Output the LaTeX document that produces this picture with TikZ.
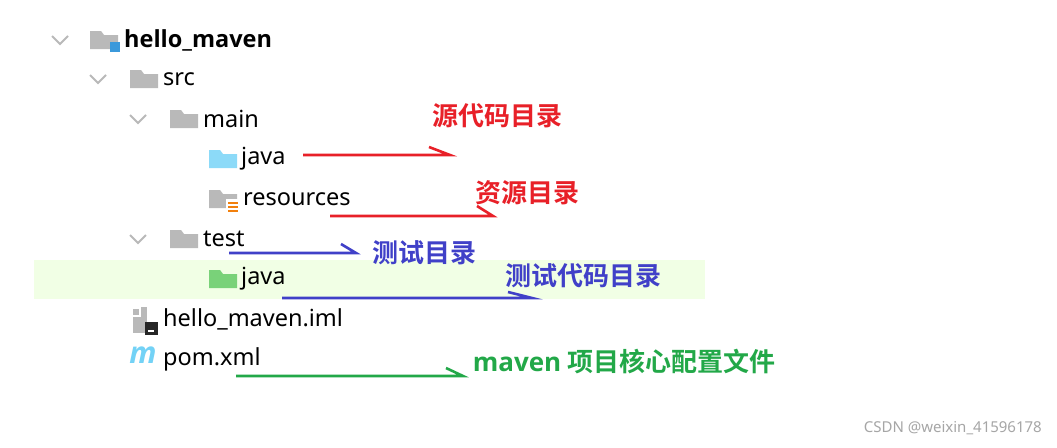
\documentclass[tikz,border=0pt]{standalone}
\usepackage{fontspec}
\setmainfont{Noto Sans}
\newfontfamily\cjk{Noto Sans CJK SC}[BoldFont={* Bold}]
\newfontfamily\sansb{Open Sans}
\begin{document}
\begin{tikzpicture}[x=1pt,y=-1pt,
  lbl/.style={anchor=west,inner sep=0pt,font=\fontsize{23.5}{27}\selectfont},
  chev/.style={draw=gray!55,line width=2pt},
  note/.style={inner sep=0pt,font=\cjk\bfseries\fontsize{26}{30}\selectfont,text=#1},
  arr/.style={draw=#1,line width=2.6pt}]
\useasboundingbox (0,0) rectangle (1057,447);
\fill[white] (0,0) rectangle (1057,447);
\fill[green!40!lime!10] (34,260) rectangle (705,299);
\foreach \x/\y in {60/40,98/79,138/119,138/239}
  \draw[chev] (\x-8,\y-4) -- (\x,\y+4) -- (\x+8,\y-4);
\tikzset{folder/.pic={\fill[#1] (-14,-9) -- (-3,-9) -- (0,-5) -- (14,-5) -- (14,9) -- (-14,9) -- cycle;}}
\pic at (104,40) {folder={gray!55}};
\fill[cyan!70!blue!80] (110,42) rectangle (120,52);
\pic at (144,79) {folder={gray!55}};
\pic at (184,119) {folder={gray!55}};
\pic at (223,159) {folder={cyan!45}};
\pic at (223,199) {folder={gray!55}};
\fill[white] (226,199) rectangle (240,214);
\foreach \yy in {202,206,210} \fill[orange!80!brown] (228,\yy) rectangle (238,\yy+2);
\pic at (184,239) {folder={gray!55}};
\pic at (223,279) {folder={green!50!gray!70}};
\fill[gray!55] (133,309) -- (139,309) -- (139,315) -- (133,315) -- cycle;
\fill[gray!55] (141,307) rectangle (147,333);
\fill[gray!55] (133,317) rectangle (141,333);
\fill[black!85] (145,322) rectangle (158,335);
\fill[white] (148,330) rectangle (154,332);
\node[inner sep=0pt,font=\sansb\bfseries\itshape\fontsize{30}{30}\selectfont,text=cyan!55] (m) at (143,355) {m};
\node[lbl] (hm) at (124,40) {\sansb\bfseries hello\_maven};
\node[lbl] (src) at (163,79) {src};
\node[lbl] (main) at (203,119) {main};
\node[lbl] (java1) at (241,159) {java};
\node[lbl] (res) at (243,199) {resources};
\node[lbl] (test) at (203,239) {test};
\node[lbl] (java2) at (241,279) {java};
\node[lbl] (iml) at (163,319) {hello\_maven.iml};
\node[lbl] (pom) at (163,359) {pom.xml};
\definecolor{rd}{HTML}{E82028}\definecolor{bl}{HTML}{4040C8}\definecolor{gr}{HTML}{22A848}
\node[note=rd] (n1) at (497,116) {源代码目录};
\node[note=rd] (n2) at (527,193) {资源目录};
\node[note=bl] (n3) at (424,253) {测试目录};
\node[note=bl] (n4) at (583,276) {测试代码目录};
\node[note=gr] (n5) at (624,362) {{\sansb\bfseries maven} 项目核心配置文件};
\coordinate (a1s) at (303,155); \coordinate (a1e) at (450,155);
\coordinate (a2s) at (330,216); \coordinate (a2e) at (493,216);
\coordinate (a3s) at (229,253); \coordinate (a3e) at (356,253);
\coordinate (a4s) at (282,298); \coordinate (a4e) at (532,298);
\coordinate (a5s) at (236,376); \coordinate (a5e) at (463,376);
\draw[arr=rd] (a1s) -- (a1e) -- ++(-21,-8);
\draw[arr=rd] (a2s) -- (a2e) -- ++(-16,-10);
\draw[arr=bl] (a3s) -- (a3e) -- ++(-15,-9);
\draw[arr=bl] (a4s) -- (a4e) -- ++(-24,-6);
\draw[arr=gr] (a5s) -- (a5e) -- ++(-17,-8);
\node[anchor=east,inner sep=0pt,text=gray!70,font=\fontsize{15}{18}\selectfont] (wm) at (1042,428) {CSDN @weixin\_41596178};
\end{tikzpicture}
\end{document}
